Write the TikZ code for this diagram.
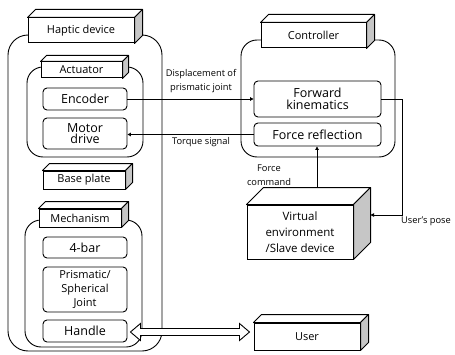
\documentclass[tikz,border=0pt]{standalone}
\usepackage{fontspec}
\setmainfont{Open Sans}
\usepackage{tikz}
\usetikzlibrary{arrows.meta, positioning, calc}
\tikzset{
    cube/.style   = {draw, fill=white, line width=1pt, inner sep=0pt,
                     font=\fontsize{11}{12}\selectfont, align=center},
    group/.style  = {draw, line width=0.9pt, rounded corners=16pt},
    block/.style  = {draw, line width=0.9pt, rounded corners=4pt, inner sep=0pt,
                     minimum width=84pt, font=\fontsize{12.5}{14}\selectfont, align=center},
    sig/.style    = {-{Triangle[length=3.5pt, width=3.5pt]}, line width=0.9pt},
    lbl/.style    = {font=\fontsize{9.3}{13.5}\selectfont, align=center, inner sep=1pt},
    hollow/.style = {draw, fill=white, line width=0.9pt, line join=miter},
}
% top and side face of a box node: #1 node, #2 depth
\newcommand{\cubefaces}[2]{%
    \draw[fill=white, line width=1pt, line join=round] (#1.north west) -- ++(#2,#2)
        -- ($(#1.north east)+(#2,#2)$) -- (#1.north east) -- cycle;
    \draw[fill=gray!45, line width=1pt, line join=round] (#1.north east) -- ++(#2,#2)
        -- ($(#1.south east)+(#2,#2)$) -- (#1.south east) -- cycle;
}

\begin{document}
\begin{tikzpicture}[x=1pt, y=1pt]
    \useasboundingbox (0,0) rectangle (455,354);

    % haptic device side
    \node[group, minimum width=154pt, minimum height=316pt, rounded corners=20pt] (haptic) at (85,161) {};
    \node[group, minimum width=116pt, minimum height=90pt] (actuator) at (85,242) {};
    \node[group, minimum width=117pt, minimum height=127pt] (mechanism) at (83.5,70.5) {};

    \node[cube, minimum width=106pt, minimum height=25pt] (hapticlbl) at (81,323.5) {Haptic device};
    \cubefaces{hapticlbl}{8}
    \node[cube, minimum width=81pt, minimum height=16pt] (actlbl) at (81.5,284) {Actuator};
    \cubefaces{actlbl}{6}
    \node[block, minimum height=22pt] (encoder) at (85,255) {Encoder};
    \node[block, minimum height=31pt] (motor) at (85,220.5) {Motor\\[-3pt]drive};
    \node[cube, minimum width=82pt, minimum height=18pt] (base) at (84,174) {Base plate};
    \cubefaces{base}{7}
    \node[cube, minimum width=82pt, minimum height=18pt] (mechlbl) at (80,136) {Mechanism};
    \cubefaces{mechlbl}{7}
    \node[block, minimum height=21pt] (fourbar) at (85,106.5) {4-bar};
    \node[block, minimum height=45pt, font=\fontsize{11}{14}\selectfont] (joint) at (85,64.5) {Prismatic/\\Spherical\\Joint};
    \node[block, minimum height=22pt] (handle) at (85,23) {Handle};

    % controller side
    \node[group, minimum width=154pt, minimum height=117pt] (controller) at (318,255.5) {};
    \node[cube, minimum width=105pt, minimum height=25pt] (ctrllbl) at (313.5,318.5) {Controller};
    \cubefaces{ctrllbl}{8}
    \node[block, minimum width=127pt, minimum height=36pt] (fk) at (317.5,255) {Forward\\[-2pt]kinematics};
    \node[block, minimum width=127pt, minimum height=23pt] (fr) at (317.5,219.5) {Force reflection};
    \node[cube, minimum width=106pt, minimum height=54pt, font=\fontsize{11.5}{16}\selectfont] (env) at (300,122)
        {Virtual\\environment\\/Slave device};
    \cubefaces{env}{17}
    \node[cube, minimum width=106pt, minimum height=27pt] (user) at (307,17.5) {User};
    \cubefaces{user}{8}

    % signals
    \draw[sig] ($(env.north)+(17,17)$) coordinate (fcup) -- (fcup |- fr.south);
    \draw[sig] (encoder.east) -- (fk.west);
    \draw[sig] (fr.west) -- (fr.west -| motor.east);
    \coordinate (turn) at ($(fk.east)+(21,0)$);
    \draw[sig] (fk.east) -- (turn) |- ($(env.east)+(17,17)$);
    \node[lbl] (disp) at (201,273) {Displacement of\\prismatic joint};
    \node[lbl] (torque) at (201,212) {Torque signal};
    \node[lbl] (fcmd) at (269,179) {Force\\command};
    \node[lbl] (pose) at (426,133) {User's pose};

    % handle <-> user
    \coordinate (hl) at ($(handle.east)+(3,-1)$);
    \coordinate (hr) at ($(hl -| user.west)+(-4,0)$);
    \draw[hollow] (hl) -- ++(10,8.5) -- ++(0,-5) -- ($(hr)+(-10,3.5)$) -- ++(0,5) -- (hr)
        -- ++(-10,-8.5) -- ++(0,5) -- ($(hl)+(10,-3.5)$) -- ++(0,-5) -- cycle;
\end{tikzpicture}
\end{document}
